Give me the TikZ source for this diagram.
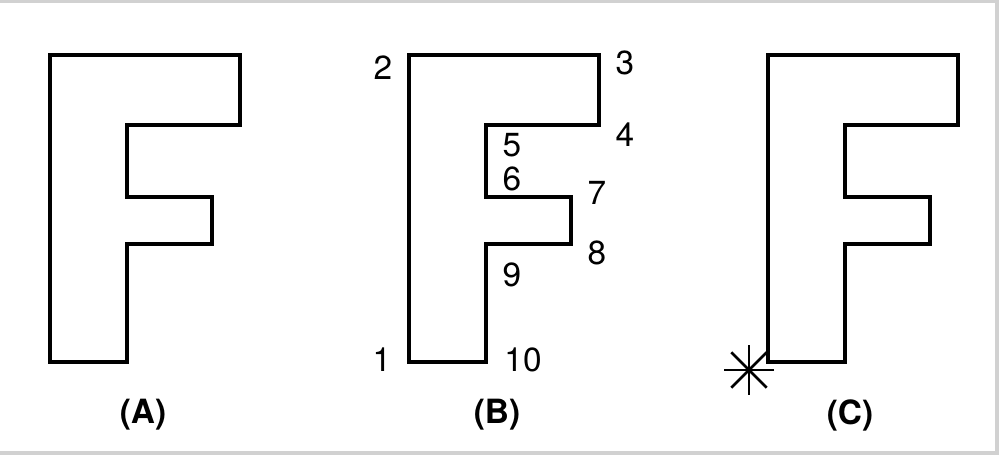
\documentclass[tikz,border=0pt]{standalone}
\usepackage{fontspec}
\setmainfont{TeX Gyre Heros}
\usetikzlibrary{calc}
\definecolor{framegray}{gray}{0.82}
\tikzset{%
  outline/.style={draw=black,line width=1.15pt,line join=miter},
  digit/.style={inner sep=0pt,font=\fontsize{9.5}{11}\selectfont},
  caption/.style={inner sep=0pt,font=\fontsize{9.5}{11}\selectfont\bfseries},
  spark/.style={draw=black,line width=0.8pt}
}

\begin{document}
\begin{tikzpicture}[x=0.1mm,y=-0.1mm]
    \useasboundingbox (0,0) rectangle (1000,456);
    \draw[framegray,line width=1pt] (0,1)--(997,1)--(997,453)--(0,453);
    %
    \foreach \x/\n/\c in {50/A/143,409/B/497,768/C/850}{
      \coordinate (\n1) at (\x,362);
      \coordinate (\n2) at (\x,55);
      \coordinate (\n3) at (\x+190,55);
      \coordinate (\n4) at (\x+190,125);
      \coordinate (\n5) at (\x+77,125);
      \coordinate (\n6) at (\x+77,197);
      \coordinate (\n7) at (\x+162,197);
      \coordinate (\n8) at (\x+162,244);
      \coordinate (\n9) at (\x+77,244);
      \coordinate (\n10) at (\x+77,362);
      \draw[outline] (\n1)--(\n2)--(\n3)--(\n4)--(\n5)--(\n6)--(\n7)--(\n8)
        --(\n9)--(\n10)--cycle;
      \node[caption] (cap\n) at (\c,415) {(\n)};
    }
    %
    \node[digit] (n1) at ([shift={(-27,-2)}]B1) {1};
    \node[digit] (n2) at ([shift={(-26,13)}]B2) {2};
    \node[digit] (n3) at ([shift={(26,8)}]B3) {3};
    \node[digit] (n4) at ([shift={(26,10)}]B4) {4};
    \node[digit] (n5) at ([shift={(26,20)}]B5) {5};
    \node[digit] (n6) at ([shift={(26,-18)}]B6) {6};
    \node[digit] (n7) at ([shift={(26,-4)}]B7) {7};
    \node[digit] (n8) at ([shift={(26,9)}]B8) {8};
    \node[digit] (n9) at ([shift={(26,31)}]B9) {9};
    \node[digit] (n10) at ([shift={(37,-2)}]B10) {10};
    %
    \coordinate (star) at ([shift={(-19,8)}]C1);
    \foreach \a in {0,45,90,135}
      \draw[spark] ([shift={(\a:25)}]star) -- ([shift={(\a+180:25)}]star);
    \fill (star) circle (3.5);
  \end{tikzpicture}
\end{document}
